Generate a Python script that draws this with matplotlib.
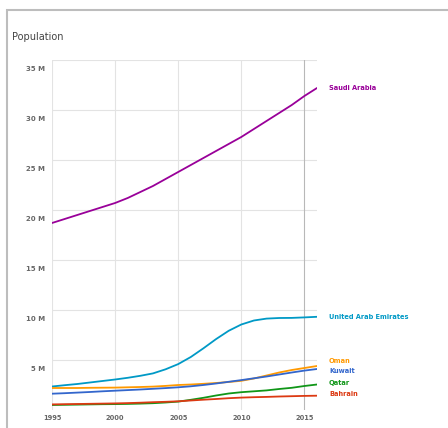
import matplotlib
matplotlib.use("Agg")
import matplotlib.pyplot as plt
from matplotlib.patches import Rectangle
from matplotlib.transforms import offset_copy

# population in millions, 1995..2016
years = list(range(1995, 2017))
saudi = [18.7, 19.1, 19.5, 19.9, 20.3, 20.7, 21.2, 21.8, 22.4, 23.1, 23.8,
         24.5, 25.2, 25.9, 26.6, 27.3, 28.1, 28.9, 29.7, 30.5, 31.4, 32.2]
uae = [2.35, 2.48, 2.6, 2.75, 2.9, 3.05, 3.22, 3.42, 3.66, 4.07, 4.59,
       5.3, 6.17, 7.09, 7.92, 8.55, 8.95, 9.14, 9.2, 9.21, 9.26, 9.32]
oman = [2.2, 2.2, 2.2, 2.22, 2.23, 2.24, 2.27, 2.3, 2.34, 2.41, 2.5,
        2.55, 2.62, 2.7, 2.8, 2.92, 3.15, 3.45, 3.75, 4.0, 4.2, 4.4]
kuwait = [1.63, 1.68, 1.74, 1.8, 1.87, 1.93, 1.99, 2.05, 2.12, 2.19, 2.27,
          2.37, 2.5, 2.65, 2.82, 2.99, 3.17, 3.35, 3.55, 3.75, 3.94, 4.1]
qatar = [0.5, 0.52, 0.54, 0.56, 0.58, 0.59, 0.61, 0.64, 0.68, 0.75, 0.84,
         1.02, 1.22, 1.45, 1.65, 1.78, 1.87, 1.96, 2.1, 2.22, 2.4, 2.55]
bahrain = [0.56, 0.58, 0.6, 0.62, 0.64, 0.66, 0.69, 0.73, 0.78, 0.82, 0.87,
           0.95, 1.03, 1.1, 1.18, 1.24, 1.28, 1.31, 1.35, 1.38, 1.41, 1.43]

names = ["Saudi Arabia", "United Arab Emirates", "Oman", "Kuwait", "Qatar", "Bahrain"]
series = [saudi, uae, oman, kuwait, qatar, bahrain]
colors = ["#990099", "#0099c6", "#ff9900", "#3366cc", "#109618", "#dc3912"]
# where each end label sits (millions), spread so they don't collide
label_at = [32.2, 9.3, 4.9, 3.9, 2.7, 1.6]

yticks = [5, 10, 15, 20, 25, 30, 35]
xticks = [1995, 2000, 2005, 2010, 2015]

fig = plt.figure(figsize=(4.48, 4.28), dpi=100)
fig.patches.append(Rectangle((7 / 448, -0.1), 1.2, 1.1 - 10 / 428, transform=fig.transFigure,
                             fill=False, edgecolor="#bdbdbd", linewidth=1.5))
fig.text(12 / 448, 1 - 37 / 428, "Population", fontsize=7, color="#444444", va="center")

ax = fig.add_axes([52 / 448, 18 / 428, (317 - 52) / 448, (410 - 60) / 428])
ax.set_xlim(1995, 2016)
ax.set_ylim(0, 35)
for s in ax.spines.values():
    s.set_visible(False)
ax.set_xticks([])
ax.set_yticks([])

for y in yticks:
    ax.axhline(y, color="#e3e3e3", lw=0.8, zorder=0)
for x in xticks:
    ax.axvline(x, color="#b8b8b8" if x == 2015 else "#e3e3e3", lw=0.8, zorder=0)

below = offset_copy(ax.transData, fig=fig, x=-7, y=-9, units="dots")
for y in yticks:
    ax.text(1995, y, f"{y} M", transform=below, ha="right", va="center",
            fontsize=5, color="#666666", fontweight="bold")
for x in xticks:
    ax.text(x, -0.8, str(x), ha="center", va="center", fontsize=4.8,
            color="#666666", fontweight="bold", clip_on=False)

for name, vals, c, ly in zip(names, series, colors, label_at):
    ax.plot(years, vals, color=c, lw=1.3, solid_capstyle="round", zorder=3)
    ax.text(2016.95, ly, name, color=c, fontsize=4.8, fontweight="bold",
            va="center", ha="left", clip_on=False)

fig.savefig("out.png", dpi=100)
